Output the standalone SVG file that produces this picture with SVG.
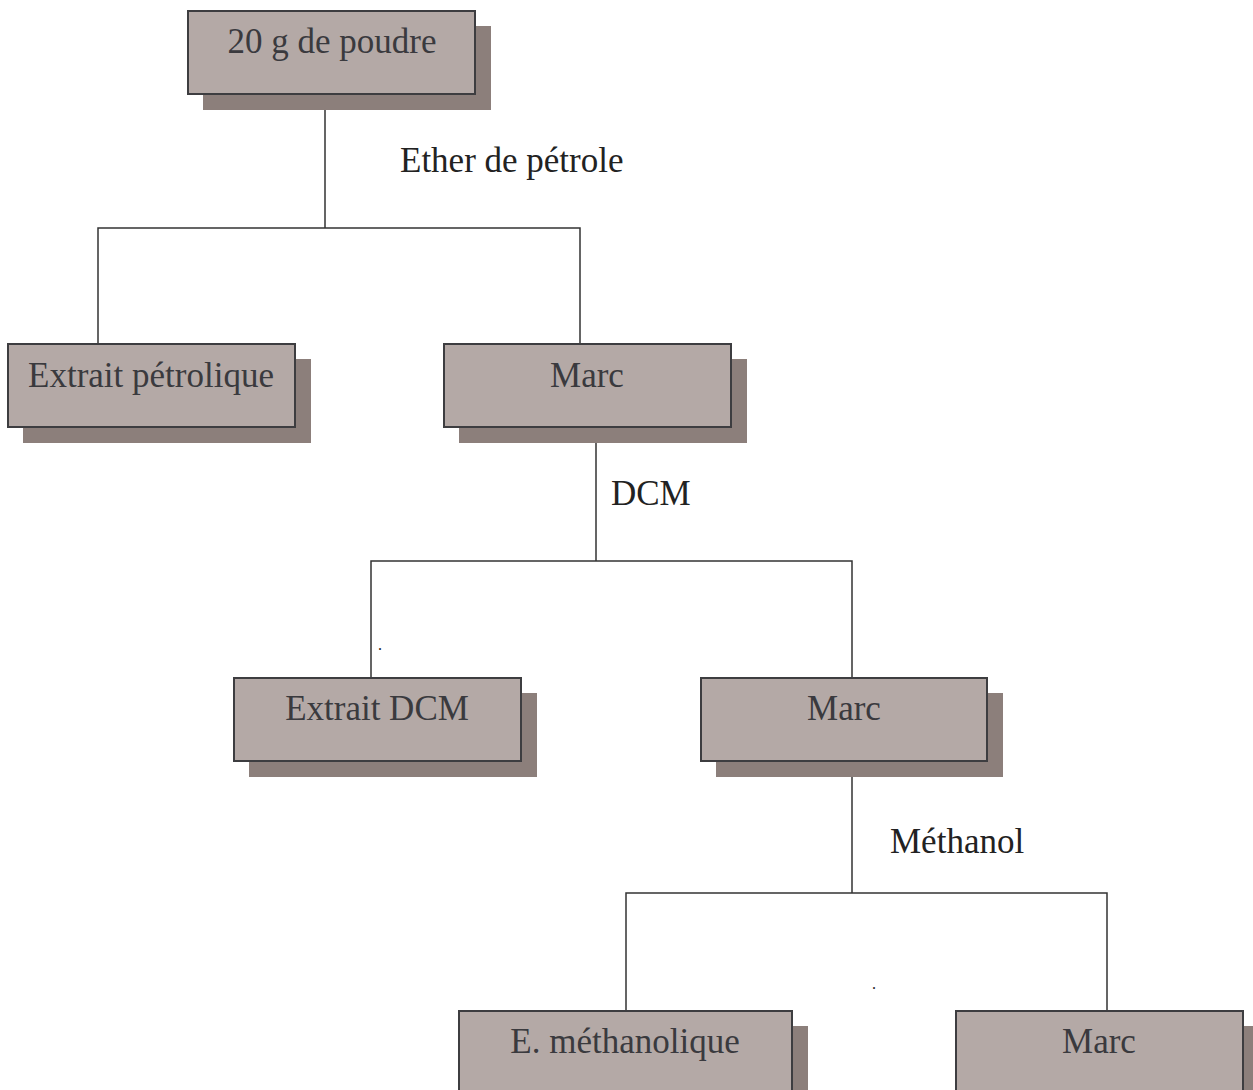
<svg xmlns="http://www.w3.org/2000/svg" width="1253" height="1090" viewBox="0 0 1253 1090">
<style>
.sh{fill:#8c7f7b}
.bx{fill:#b4a9a6;stroke:#3d3d40;stroke-width:2}
.t{font-family:"Liberation Serif","Times New Roman",serif;font-size:35px;fill:#3a3a3e;text-anchor:middle}
.lb{font-family:"Liberation Serif","Times New Roman",serif;font-size:35px;fill:#222}
.dot{font-family:"Liberation Serif",serif;font-size:16px;fill:#222}
.c{fill:none;stroke:#333;stroke-width:1.5}
</style>
<rect width="1253" height="1090" fill="#fff"/>
<g id="connectors">
<path class="c" d="M325 94V228M98 344V228H580V344"/>
<path class="c" d="M596 427V561M371 678V561H852V678"/>
<path class="c" d="M852 761V893M626 1011V893H1107V1011"/>
</g>
<g id="labels">
<text class="lb" x="400" y="172">Ether de pétrole</text>
<text class="lb" x="611" y="505">DCM</text>
<text class="lb" x="890" y="853">Méthanol</text>
<text class="dot" x="378" y="650">.</text>
<text class="dot" x="872" y="989">.</text>
</g>
<g id="n1"><rect class="sh" x="203" y="26" width="288" height="84"/><rect class="bx" x="188" y="11" width="287" height="83"/><text class="t" x="332" y="53">20 g de poudre</text></g>
<g id="n2"><rect class="sh" x="23" y="359" width="288" height="84"/><rect class="bx" x="8" y="344" width="287" height="83"/><text class="t" x="151" y="387">Extrait pétrolique</text></g>
<g id="n3"><rect class="sh" x="459" y="359" width="288" height="84"/><rect class="bx" x="444" y="344" width="287" height="83"/><text class="t" x="587" y="387">Marc</text></g>
<g id="n4"><rect class="sh" x="249" y="693" width="288" height="84"/><rect class="bx" x="234" y="678" width="287" height="83"/><text class="t" x="377" y="720">Extrait DCM</text></g>
<g id="n5"><rect class="sh" x="716" y="693" width="287" height="84"/><rect class="bx" x="701" y="678" width="286" height="83"/><text class="t" x="844" y="720">Marc</text></g>
<g id="n6"><rect class="sh" x="474" y="1026" width="334" height="84"/><rect class="bx" x="459" y="1011" width="333" height="83"/><text class="t" x="625" y="1053">E. méthanolique</text></g>
<g id="n7"><rect class="sh" x="971" y="1026" width="288" height="84"/><rect class="bx" x="956" y="1011" width="287" height="83"/><text class="t" x="1099" y="1053">Marc</text></g>
</svg>
